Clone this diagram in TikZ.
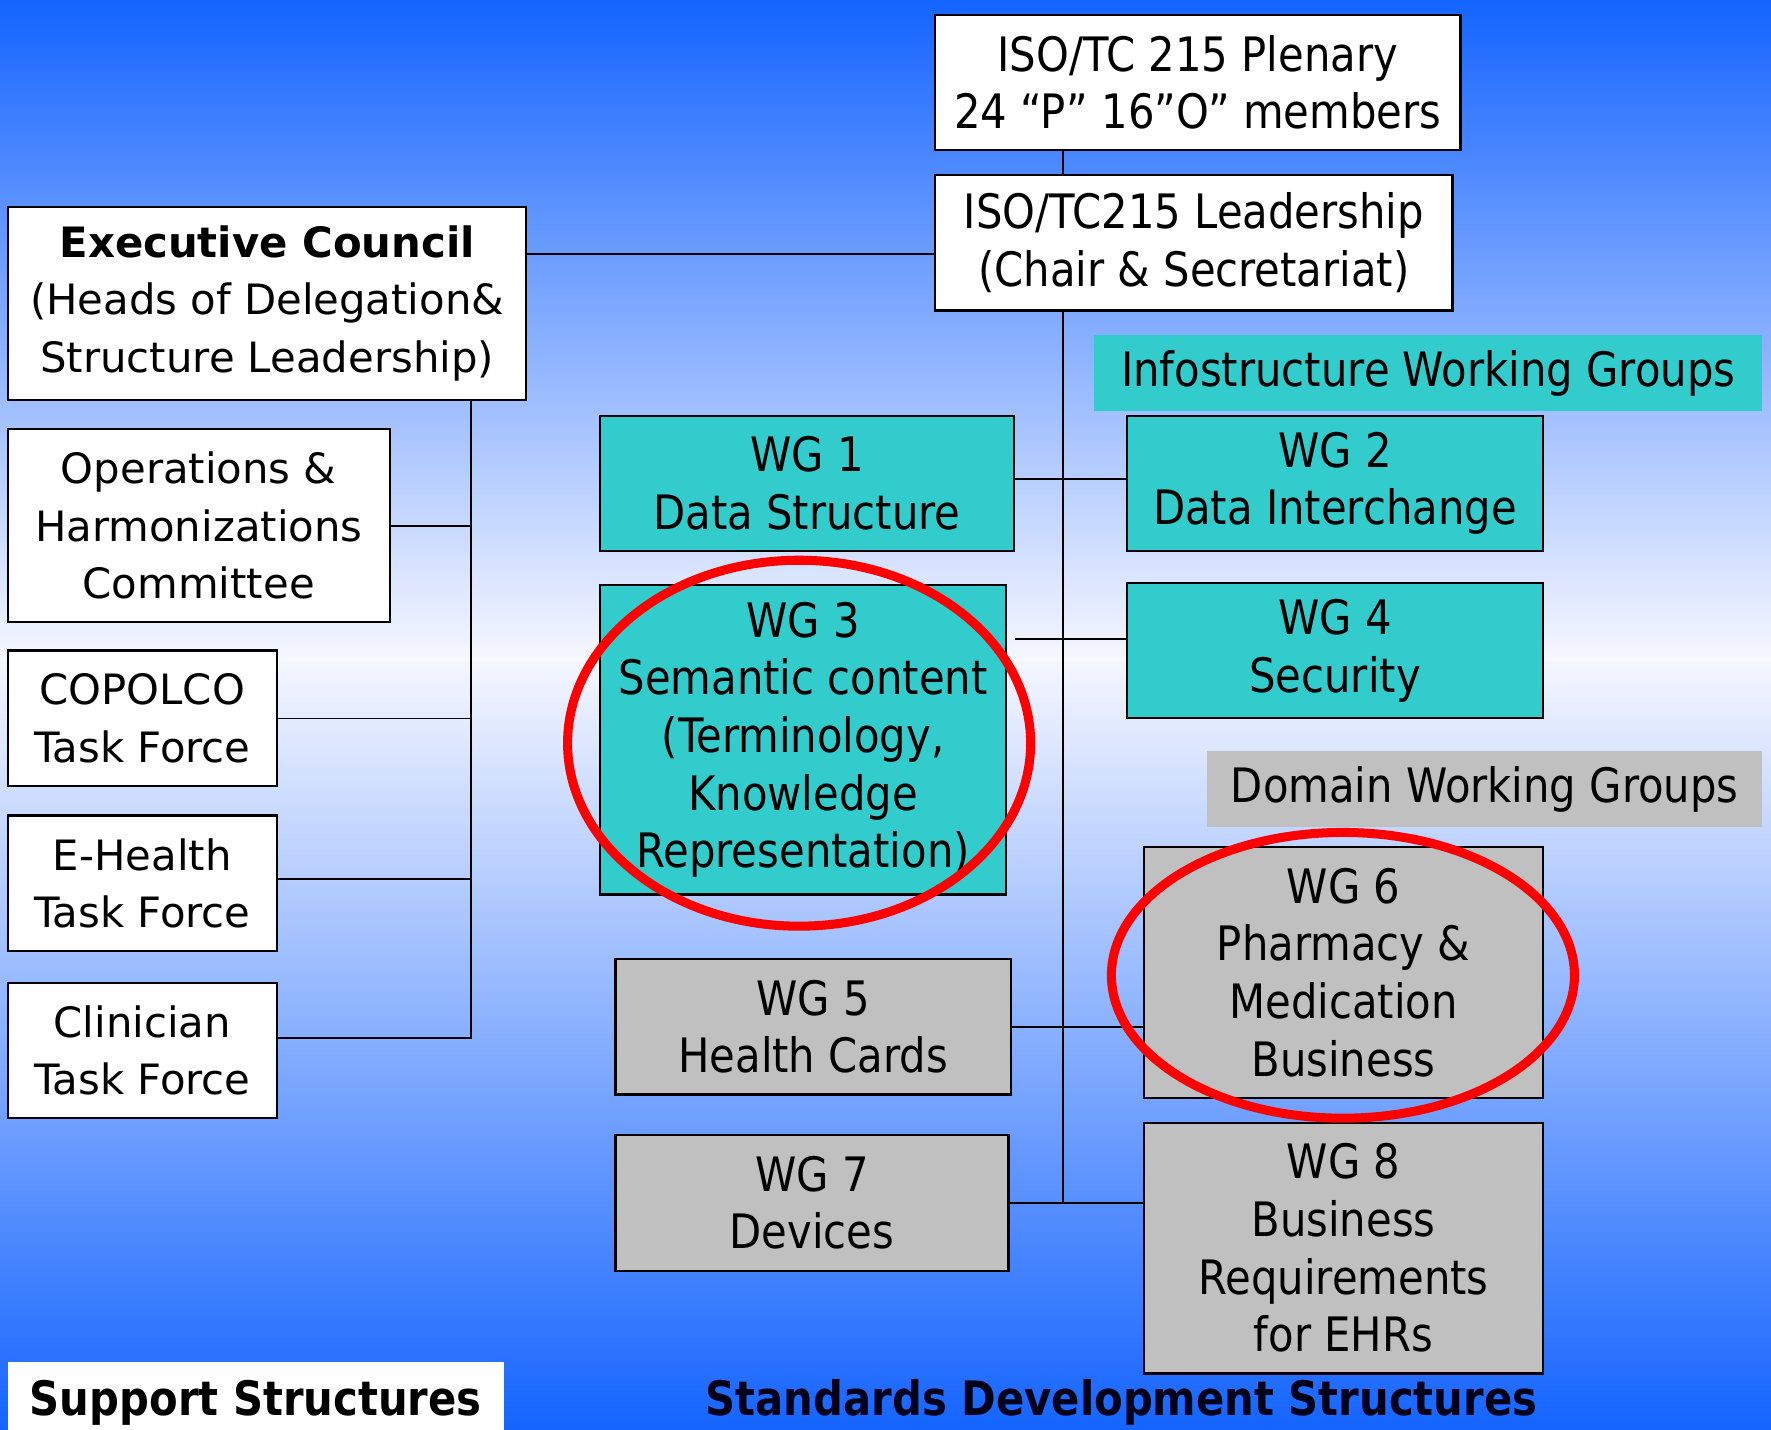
\documentclass[tikz,border=0pt]{standalone}
\usepackage{fontspec}
\setmainfont{DejaVu Sans}
\newfontfamily\tah[FakeStretch=0.88]{DejaVu Sans}
\usetikzlibrary{shapes.geometric}
\definecolor{bgblue}{RGB}{20,100,255}
\definecolor{bgwhite}{RGB}{246,247,255}
\definecolor{wgteal}{RGB}{51,204,204}
\definecolor{wggray}{RGB}{192,192,192}
\definecolor{ringred}{RGB}{255,0,0}
\definecolor{navytext}{RGB}{0,0,25}
\pgfdeclareverticalshading{bgshade}{100bp}{color(0bp)=(bgblue); color(25bp)=(bgblue); color(52bp)=(bgwhite); color(75bp)=(bgblue); color(100bp)=(bgblue)}
\begin{document}
\begin{tikzpicture}[x=0.5pt,y=-0.5pt,
  sz/.style 2 args={minimum width=#1pt, minimum height=#2pt},
  basebox/.style={draw=black, line width=1pt, inner sep=0pt, align=center},
  rbox/.style={basebox, font=\tah\fontsize{21}{25.5}\selectfont},
  lbox/.style={basebox, fill=white, font=\fontsize{18.5}{25.5}\selectfont},
  tealbox/.style={rbox, fill=wgteal},
  graybox/.style={rbox, fill=wggray},
  grouplabel/.style={inner sep=0pt, align=center, font=\tah\fontsize{21}{25.5}\selectfont},
  conn/.style={draw=black, line width=0.75pt},
  ring/.style={draw=ringred, line width=4pt, ellipse, inner sep=0pt}]
\useasboundingbox (0,0) rectangle (1568,1266);
\fill[shading=bgshade] (0,0) rectangle (1568,1266);

% coordinates for the two spines
\coordinate (spine) at (417,0);
\coordinate (trunk) at (941,0);

% top
\node[rbox, fill=white, sz={232.5}{60}] (plen) at (1060.5,73) {ISO/TC 215 Plenary\\24 “P” 16”O” members};
\node[rbox, fill=white, sz={229}{60}] (lead) at (1057,215) {ISO/TC215 Leadership\\(Chair \& Secretariat)};

% support structures (left)
\node[lbox, sz={229.5}{85.5}] (exec) at (236.5,268.5) {\textbf{Executive Council}\\(Heads of Delegation\&\\Structure Leadership)};
\node[lbox, sz={169}{85.5}] (ops) at (176,465.5) {Operations \&\\Harmonizations\\Committee};
\node[lbox, sz={119}{60}] (cop) at (126,636) {COPOLCO\\Task Force};
\node[lbox, sz={119}{60}] (ehl) at (126,782) {E-Health\\Task Force};
\node[lbox, sz={119}{60}] (clin) at (126,930) {Clinician\\Task Force};

% group labels
\node[grouplabel, fill=wgteal, sz={295.5}{33.5}] (info) at (1264.5,330.5) {Infostructure Working Groups};
\node[grouplabel, fill=wggray, sz={245.5}{33.5}] (dom) at (1314.5,698.5) {Domain Working Groups};

% working groups
\node[tealbox, sz={183.5}{60}] (wg1) at (714.5,428) {WG 1\\Data Structure};
\node[tealbox, sz={184}{60}] (wg2) at (1182,428) {WG 2\\Data Interchange};
\node[tealbox, sz={180}{137}] (wg3) at (711,655) {WG 3\\Semantic content\\(Terminology,\\Knowledge\\Representation)};
\node[tealbox, sz={184}{60}] (wg4) at (1182,576) {WG 4\\Security};
\node[graybox, sz={176.5}{111}] (wg6) at (1189.5,861) {WG 6\\Pharmacy \&\\Medication\\Business};
\node[graybox, sz={175}{60}] (wg5) at (720,909) {WG 5\\Health Cards};
\node[graybox, sz={174}{60}] (wg7) at (719,1065) {WG 7\\Devices};
\node[graybox, sz={176.5}{111}] (wg8) at (1189.5,1105) {WG 8\\Business\\Requirements\\for EHRs};

% bottom titles
\node[fill=white, inner sep=0pt, sz={219.5}{36}, font=\tah\bfseries\fontsize{21}{25.5}\selectfont] (supp) at (226.5,1242) {Support Structures};
\node[inner sep=0pt, text=navytext, font=\tah\bfseries\fontsize{21}{25.5}\selectfont] (sds) at (993,1242) {Standards Development Structures};

% connectors
\draw[conn] (plen.south -| trunk) -- (lead.north -| trunk);
\draw[conn] ([yshift=-5pt]lead.west) -- ([yshift=-5pt]lead.west -| exec.east);
\draw[conn] (exec.south -| spine) -- ([yshift=5.5pt]clin.east -| spine) -- ([yshift=5.5pt]clin.east);
\draw[conn] (ops.east) -- (ops.east -| spine);
\draw[conn] (cop.east) -- (cop.east -| spine);
\draw[conn] ([yshift=2pt]ehl.east) -- ([yshift=2pt]ehl.east -| spine);
\draw[conn] (lead.south -| trunk) -- (wg7.east -| trunk);
\draw[conn] ([yshift=2pt]wg1.east) -- ([yshift=2pt]wg2.west);
\draw[conn] ([yshift=5pt]wg4.west) -- ([yshift=5pt]wg4.west -| wg1.east);
\draw[conn] (wg5.east) -- (wg5.east -| wg6.west);
\draw[conn] (wg7.east) -- (wg7.east -| wg8.west);

% red highlight rings
\node[ring, minimum width=205pt, minimum height=162pt] (ring1) at (707.5,658) {};
\node[ring, minimum width=205pt, minimum height=126.5pt] (ring2) at (1189,863.5) {};
\end{tikzpicture}
\end{document}
